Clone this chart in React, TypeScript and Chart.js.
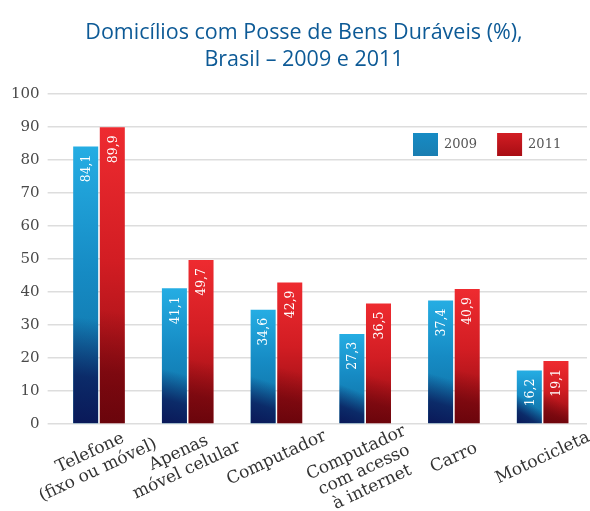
import React, { useEffect, useRef } from 'react';
import { Chart, registerables } from 'chart.js';
Chart.register(...registerables);

const categories: string[][] = [
  ['Telefone', '(fixo ou móvel)'],
  ['Apenas', 'móvel celular'],
  ['Computador'],
  ['Computador', 'com acesso', 'à internet'],
  ['Carro'],
  ['Motocicleta'],
];
const values2009 = [84.1, 41.1, 34.6, 27.3, 37.4, 16.2];
const values2011 = [89.9, 49.7, 42.9, 36.5, 40.9, 19.1];
const seriesLabels = ['2009', '2011'];
const titleLines = ['Domicílios com Posse de Bens Duráveis (%),', 'Brasil – 2009 e 2011'];
const yTicks = { min: 0, max: 100, step: 10 };

const SERIF = '"DejaVu Serif", serif';
const palettes = [
  { top: '#25ade3', mid: '#168bc4', bottom: '#0e6c9e', shade: '10,20,85', legend: '#1a7eb1' },
  { top: '#ee2b30', mid: '#d21d23', bottom: '#8a0a10', shade: '80,0,8', legend: '#a80d14' },
];

function barGradient(c: any, di: number) {
  const chart = c.chart;
  const p = palettes[di];
  const y = chart.scales && chart.scales.y;
  if (!y || c.type !== 'data') return p.legend;
  const top = y.getPixelForValue(c.raw as number);
  const bottom = y.getPixelForValue(0);
  if (!isFinite(top) || !isFinite(bottom) || bottom - top < 1) return p.mid;
  const g = chart.ctx.createLinearGradient(0, top, 0, bottom);
  g.addColorStop(0, p.top);
  g.addColorStop(0.45, p.mid);
  g.addColorStop(1, p.bottom);
  return g;
}

const shadePlugin = {
  id: 'shade',
  afterDatasetsDraw(chart: any) {
    const ctx = chart.ctx;
    chart.data.datasets.forEach((ds: any, di: number) => {
      const meta = chart.getDatasetMeta(di);
      const p = palettes[di];
      meta.data.forEach((el: any) => {
        const w = el.width;
        const left = el.x - w / 2;
        const top = el.y;
        const base = el.base;
        const h = base - top;
        ctx.save();
        ctx.beginPath();
        ctx.rect(left, top, w, h);
        ctx.clip();
        const g = ctx.createLinearGradient(left, base, left + w * 0.55, base - Math.min(h * 0.38, 120));
        const a = di === 0 ? 0.95 : 0.55;
        g.addColorStop(0, `rgba(${p.shade},${a})`);
        g.addColorStop(0.45, `rgba(${p.shade},${a * 0.8})`);
        g.addColorStop(1, `rgba(${p.shade},0)`);
        ctx.fillStyle = g;
        ctx.fillRect(left, top, w, h);
        ctx.restore();
      });
    });
  },
};

const valueLabelPlugin = {
  id: 'valueLabels',
  afterDatasetsDraw(chart: any) {
    const ctx = chart.ctx;
    chart.data.datasets.forEach((ds: any, di: number) => {
      const meta = chart.getDatasetMeta(di);
      meta.data.forEach((el: any, i: number) => {
        const v = ds.data[i] as number;
        ctx.save();
        ctx.translate(el.x, el.y + 8);
        ctx.rotate(-Math.PI / 2);
        ctx.font = `12.5px ${SERIF}`;
        ctx.fillStyle = '#ffffff';
        ctx.textAlign = 'right';
        ctx.textBaseline = 'middle';
        ctx.fillText(v.toFixed(1).replace('.', ','), 0, 1);
        ctx.restore();
      });
    });
  },
};

const xLabelPlugin = {
  id: 'xLabels',
  afterDraw(chart: any) {
    const ctx = chart.ctx;
    const xs = chart.scales.x;
    const bottom = chart.chartArea.bottom;
    const labels = chart.data.labels as string[][];
    const ang = (-25 * Math.PI) / 180;
    const lh = 19;
    labels.forEach((lines, i) => {
      const x = xs.getPixelForTick(i);
      const multi = lines.length > 1;
      const ox = x + (multi ? -9 : 0);
      const oy = bottom + (multi ? 29 : 34);
      ctx.save();
      ctx.translate(ox, oy);
      ctx.rotate(ang);
      ctx.font = `17px ${SERIF}`;
      ctx.fillStyle = '#333333';
      ctx.textAlign = 'center';
      ctx.textBaseline = 'middle';
      lines.forEach((ln, k) => ctx.fillText(ln, 0, k * lh));
      ctx.restore();
    });
  },
};

const titlePlugin = {
  id: 'customTitle',
  afterDraw(chart: any) {
    const ctx = chart.ctx;
    ctx.save();
    ctx.font = `21.5px "Open Sans", sans-serif`;
    ctx.fillStyle = '#0d5a96';
    ctx.textAlign = 'center';
    ctx.textBaseline = 'middle';
    titleLines.forEach((t, k) => ctx.fillText(t, 304, 33 + k * 27));
    ctx.restore();
  },
};

const legendPlugin = {
  id: 'insideLegend',
  afterDraw(chart: any) {
    const ctx = chart.ctx;
    const area = chart.chartArea;
    let x = area.right - 174;
    const yTop = 133;
    ctx.save();
    ctx.font = `13px ${SERIF}`;
    ctx.textBaseline = 'middle';
    ctx.textAlign = 'left';
    chart.data.datasets.forEach((ds: any, di: number) => {
      const p = palettes[di];
      const g = ctx.createLinearGradient(x, yTop, x, yTop + 23);
      g.addColorStop(0, p.mid);
      g.addColorStop(1, p.legend);
      ctx.fillStyle = g;
      ctx.fillRect(x, yTop, 25, 23);
      x += 31;
      ctx.fillStyle = '#555555';
      ctx.fillText(ds.label, x, yTop + 12);
      x += ctx.measureText(ds.label).width + 20;
    });
    ctx.restore();
  },
};

export default function App() {
  const ref = useRef<HTMLCanvasElement | null>(null);
  useEffect(() => {
    if (!ref.current) return;
    const chart = new Chart(ref.current, {
      type: 'bar',
      data: {
        labels: categories as any,
        datasets: [
          {
            label: seriesLabels[0],
            data: values2009,
            backgroundColor: (c: any) => barGradient(c, 0),
            borderWidth: 0,
            categoryPercentage: 0.6,
            barPercentage: 0.94,
          },
          {
            label: seriesLabels[1],
            data: values2011,
            backgroundColor: (c: any) => barGradient(c, 1),
            borderWidth: 0,
            categoryPercentage: 0.6,
            barPercentage: 0.94,
          },
        ],
      },
      options: {
        responsive: false,
        animation: false,
        layout: { padding: { left: 3, right: 3, top: 94, bottom: 79 } },
        plugins: {
          legend: { display: false },
          tooltip: { enabled: false },
          title: { display: false },
        },
        scales: {
          x: {
            ticks: { display: false },
            grid: { display: false },
            border: { display: false },
          },
          y: {
            min: yTicks.min,
            max: yTicks.max,
            ticks: {
              stepSize: yTicks.step,
              color: '#4a4a4a',
              font: { family: SERIF, size: 15 },
              padding: 8,
            },
            grid: { color: '#dddddd', lineWidth: 1.5, tickLength: 7, drawTicks: true },
            border: { display: false },
          },
        },
      },
      plugins: [shadePlugin, valueLabelPlugin, xLabelPlugin, titlePlugin, legendPlugin],
    });
    return () => chart.destroy();
  }, []);
  return (
    <div style={{ position: 'absolute', left: 0, top: 0, width: 590, height: 511, background: '#ffffff' }}>
      <canvas ref={ref} width={590} height={511} style={{ display: 'block' }} />
    </div>
  );
}
